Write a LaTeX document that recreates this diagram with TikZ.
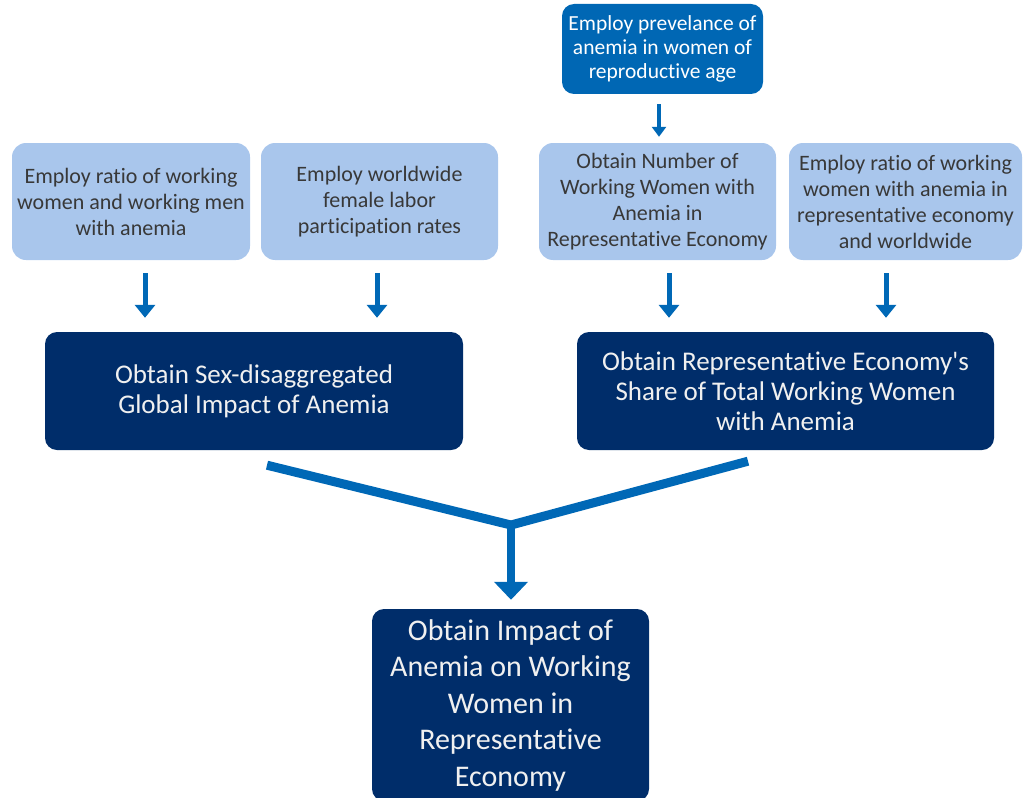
\documentclass[tikz,border=0pt]{standalone}
\usepackage{fontspec}
\setmainfont{Carlito}[Ligatures={NoCommon}]
\usepackage{xcolor}
\usetikzlibrary{arrows.meta,positioning}
\definecolor{lightblue}{HTML}{A9C6EC}
\definecolor{navyblue}{HTML}{002D6A}
\definecolor{midblue}{HTML}{0067B4}
\definecolor{arrowblue}{HTML}{0068B6}
\definecolor{textgray}{HTML}{383838}
\begin{document}
\begin{tikzpicture}[
        x=1pt, y=-1pt,
        % cajas y flechas del diagrama
        inputbox/.style={rectangle, fill=lightblue, rounded corners=14pt, text=textgray, align=center, font=\fontsize{22}{26}\selectfont, minimum width=#1, minimum height=117pt, inner sep=0pt},
        sourcebox/.style={rectangle, fill=midblue, rounded corners=12pt, text=white, align=center, font=\fontsize{21.5}{24}\selectfont, minimum width=201pt, minimum height=90pt, inner sep=0pt},
        stepbox/.style={rectangle, fill=navyblue, rounded corners=12pt, text=white!94!black, align=center, font=\fontsize{27}{30}\selectfont, minimum width=#1, minimum height=118pt, inner sep=0pt},
        smallarrow/.style={draw=arrowblue, line width=3.5pt, -{Triangle[width=14pt,length=10pt]}},
        downarrow/.style={draw=arrowblue, line width=5pt, -{Triangle[width=20pt,length=13pt]}, shorten <=13pt, shorten >=14pt},
        mergeline/.style={draw=arrowblue, line width=9pt, line join=miter},
        bigarrow/.style={draw=arrowblue, line width=8pt, -{Triangle[width=33pt,length=18pt]}, shorten >=9pt}
    ]
        \useasboundingbox (0,0) rectangle (1024,797);

        \node [sourcebox] (prev) at (662.5,49) {Employ prevelance of\\anemia in women of\\reproductive age};

        \node [inputbox=238pt] (ratio) at (131,201.5) {Employ ratio of working\\women and working men\\with anemia};
        \node [inputbox=237pt] (labor) at (379.5,201.5) {Employ worldwide\\female labor\\participation rates};
        \node [inputbox=237pt] (number) at (657.5,201.5) {Obtain Number of\\Working Women with\\Anemia in\\Representative Economy};
        \node [inputbox=233pt] (share) at (905.5,201.5) {Employ ratio of working\\women with anemia in\\representative economy\\and worldwide};

        \node [stepbox=418pt] (global) at (254,391) {Obtain Sex-disaggregated\\Global Impact of Anemia};
        \node [stepbox=417pt] (repshare) at (785.5,391) {Obtain Representative Economy\textquotesingle s\\Share of Total Working Women\\with Anemia};

        \node [stepbox=277pt, minimum height=192pt, font=\fontsize{30}{36.5}\selectfont] (impact) at (510.5,705) {Obtain Impact of\\Anemia on Working\\Women in\\Representative\\Economy};

        \coordinate (join) at (511,525);

        \draw [smallarrow, shorten <=10pt, shorten >=6pt] ([xshift=1.5pt]number.north |- prev.south) -- ([xshift=1.5pt]number.north);

        \draw [downarrow] ([xshift=14pt]ratio.south) -- ([xshift=14pt]ratio.south |- global.north);
        \draw [downarrow] ([xshift=-2.5pt]labor.south) -- ([xshift=-2.5pt]labor.south |- global.north);
        \draw [downarrow] ([xshift=11.5pt]number.south) -- ([xshift=11.5pt]number.south |- repshare.north);
        \draw [downarrow] ([xshift=-19.5pt]share.south) -- ([xshift=-19.5pt]share.south |- repshare.north);

        \draw [mergeline] ([xshift=13pt,yshift=-15pt]global.south) -- (join) -- ([xshift=-37.5pt,yshift=-11pt]repshare.south);
        \draw [bigarrow] ([yshift=4pt]join) -- (join |- impact.north);
    \end{tikzpicture}
\end{document}
